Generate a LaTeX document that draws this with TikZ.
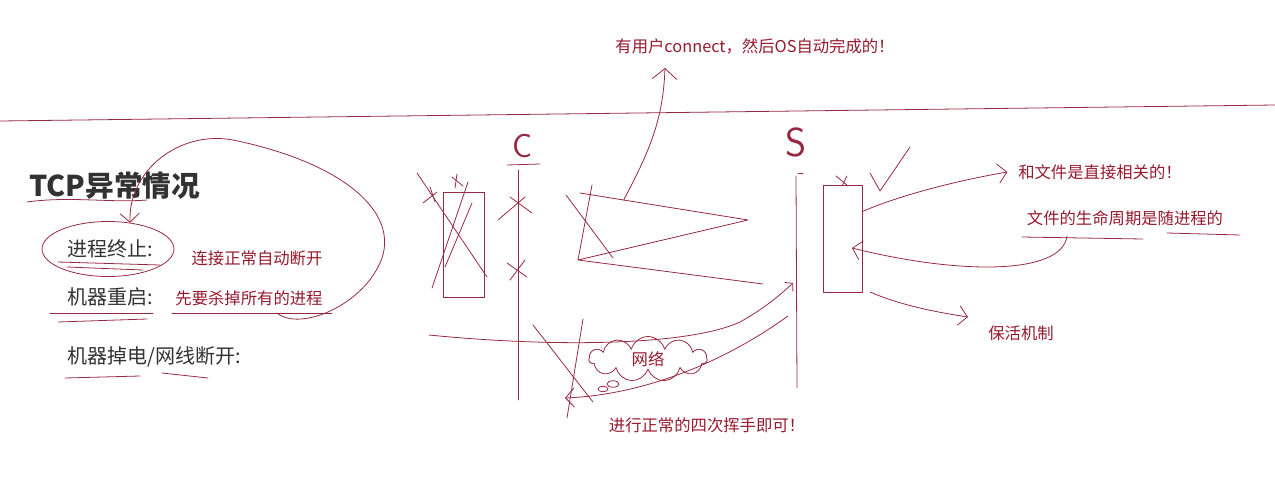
\documentclass[tikz,border=0pt]{standalone}
\usepackage{fontspec}
\setmainfont{Noto Sans}
\newfontfamily\cjk{Noto Sans CJK SC}
\usepackage{xcolor}
\usepackage{tikz}
\usetikzlibrary{shapes,shapes.geometric,shapes.symbols,arrows.meta,positioning,calc}

\definecolor{ink}{RGB}{150,40,65}
\definecolor{notered}{RGB}{150,25,45}
\definecolor{slidegray}{RGB}{50,50,50}

\begin{document}
\begin{tikzpicture}[x=0.02cm, y=-0.02cm, line width=0.45pt,
    >={Straight Barb[length=5pt,width=11pt]},
    stroke/.style={draw=ink, line cap=round, line join=round},
    note/.style={font=\cjk\fontsize{9.3}{11}\selectfont, text=notered, inner sep=1pt},
    item/.style={font=\cjk\fontsize{11.4}{13}\selectfont, text=slidegray, anchor=west, inner sep=0pt},
    hand/.style={font=\sffamily\fontsize{19}{19}\selectfont, text=ink, inner sep=0pt}]
    \useasboundingbox (0,0) rectangle (1275,477);

    % Slide text on the left
    \node[font=\cjk\bfseries\fontsize{16.3}{18}\selectfont, text=slidegray, anchor=west, inner sep=0pt] (title) at (29,186) {TCP异常情况};
    \node[item] (stopitem) at (67,249) {进程终止:};
    \node[item] (rebootitem) at (67,297) {机器重启:};
    \node[item] (poweritem) at (67,357) {机器掉电/网线断开:};

    % Hand notes next to the items
    \node[note] (autoclose) at (257,258) {连接正常自动断开};
    \node[note] (killall) at (249,298) {先要杀掉所有的进程};

    % Underlines
    \draw[stroke] (27,202) .. controls (70,196) and (110,203) .. (147,200);
    \draw[stroke] (58,262) -- (160,265);
    \draw[stroke] (67,267) -- (143,270);
    \draw[stroke] (50,313) -- (153,313);
    \draw[stroke] (58,322) -- (147,319);
    \draw[stroke] (172,313) -- (332,313);
    \draw[stroke] (65,378) -- (140,376);
    \draw[stroke] (162,373) -- (208,378);

    % Ring round the first item and the loop into it
    \node[stroke, ellipse, minimum width=2.64cm, minimum height=1.1cm] (ring) at (108,249) {};
    \coordinate (loopstart) at (277,313);
    \draw[stroke, ->] (loopstart) .. controls (300,332) and (365,305) .. (382,258)
        .. controls (398,210) and (340,162) .. (233,140)
        .. controls (180,130) and (128,170) .. (ring.50);

    % Divider
    \draw[stroke] (0,121) -- (1275,105);

    % Client side
    \node[hand] (clabel) at (523,146) {C};
    \draw[stroke] (507,165) -- (540,164);
    \coordinate (ctop) at (518,170);
    \coordinate (cbot) at (518,400);
    \draw[stroke] (ctop) -- (cbot);
    \draw[stroke] (498,220) -- (525,197);
    \draw[stroke] (510,197) -- (532,213);
    \draw[stroke] (507,263) -- (527,277);
    \draw[stroke] (525,260) -- (510,280);

    \node[stroke, minimum width=0.82cm, minimum height=2.1cm] (cbox) at (463.5,244.5) {};
    \draw[stroke] (417,173) -- (487,277);
    \draw[stroke] (468,182) -- (432,288);
    \draw[stroke] (472,203) -- (445,267);
    \draw[stroke] (423,203) -- (437,192);
    \draw[stroke] (430,187) -- (435,202);
    \draw[stroke] (452,177) -- (463,186);
    \draw[stroke] (457,174) -- (455,188);

    % Server side
    \node[hand, font=\sffamily\fontsize{23}{23}\selectfont] (slabel) at (796,142) {S};
    \coordinate (srvtop) at (796,176);
    \coordinate (srvbot) at (797,388);
    \draw[stroke] (srvtop) -- (srvbot);
    \draw[stroke] (798,173) -- (803,173);

    \node[stroke, minimum width=0.78cm, minimum height=2.14cm] (sbox) at (842.5,238.5) {};
    \draw[stroke] (836,176) -- (848,186);
    \draw[stroke] (847,176) -- (842,186);
    \draw[stroke] (870,173) -- (880,191) -- (910,147);

    % Handshake zigzag
    \coordinate (syn) at (580,193);
    \coordinate (synack) at (748,220);
    \coordinate (ack) at (578,260);
    \coordinate (ackend) at (763,284);
    \coordinate (hsleft) at (592,185);
    \draw[stroke] (syn) -- (synack) -- (ack) -- (ackend);
    \draw[stroke] (ack) -- (hsleft);
    \draw[stroke] (566,195) -- (613,258);

    % Note on top
    \node[note] (osnote) at (755,46) {有用户connect，然后OS自动完成的！};
    \coordinate (synmid) at ($(syn)!0.26!(synack)$);
    \coordinate (ostip) at (665,68);
    \draw[stroke, ->, >={Straight Barb[length=6pt,width=14pt]}] (synmid) .. controls (650,150) and (663,120) .. (ostip);

    % Network cloud and the close
    \node[stroke, cloud, cloud puffs=11, aspect=2.6, minimum width=2.36cm, minimum height=0.9cm, note] (net) at (648,359) {网络};
    \node[stroke, ellipse, minimum width=0.24cm, minimum height=0.13cm, inner sep=0pt] (bubblea) at (613,384) {};
    \node[stroke, ellipse, minimum width=0.2cm, minimum height=0.11cm, inner sep=0pt] (bubbleb) at (603,389) {};

    \coordinate (netstart) at (429,335);
    \coordinate (netin) at (793,283);
    \draw[stroke, ->, >={Straight Barb[length=3pt,width=7pt]}] (netstart) .. controls (560,348) and (690,345) .. (740,322)
        .. controls (765,308) and (780,295) .. (netin);
    \coordinate (finsrc) at (788,316);
    \coordinate (findst) at (565,398);
    \draw[stroke, ->] (finsrc) .. controls (720,365) and (640,395) .. (findst);
    \draw[stroke] (533,325) -- (593,402);
    \draw[stroke] (583,319) -- (567,418);

    \node[note] (wavenote) at (707,425) {进行正常的四次挥手即可！};

    % Notes on the right
    \node[note, inner sep=6pt] (filenote) at (1100,172) {和文件是直接相关的！};
    \node[note] (lifenote) at (1125,218) {文件的生命周期是随进程的};
    \node[note] (keepnote) at (1021,333) {保活机制};
    \draw[stroke] (1022,237) -- (1143,239);
    \draw[stroke] (1167,233) -- (1240,235);

    \coordinate (sboxhi) at ($(sbox.north east)!0.25!(sbox.south east)$);
    \draw[stroke, ->] (sboxhi) .. controls (900,195) and (960,180) .. (filenote.west);
    \coordinate (lifetail) at (1067,236);
    \coordinate (sboxin) at (852,248);
    \draw[stroke, ->] (lifetail) .. controls (1062,275) and (960,275) .. (sboxin);
    \coordinate (sboxlo) at (870,292);
    \coordinate (keepin) at (968,317);
    \draw[stroke, ->] (sboxlo) .. controls (900,305) and (935,312) .. (keepin);
\end{tikzpicture}
\end{document}
